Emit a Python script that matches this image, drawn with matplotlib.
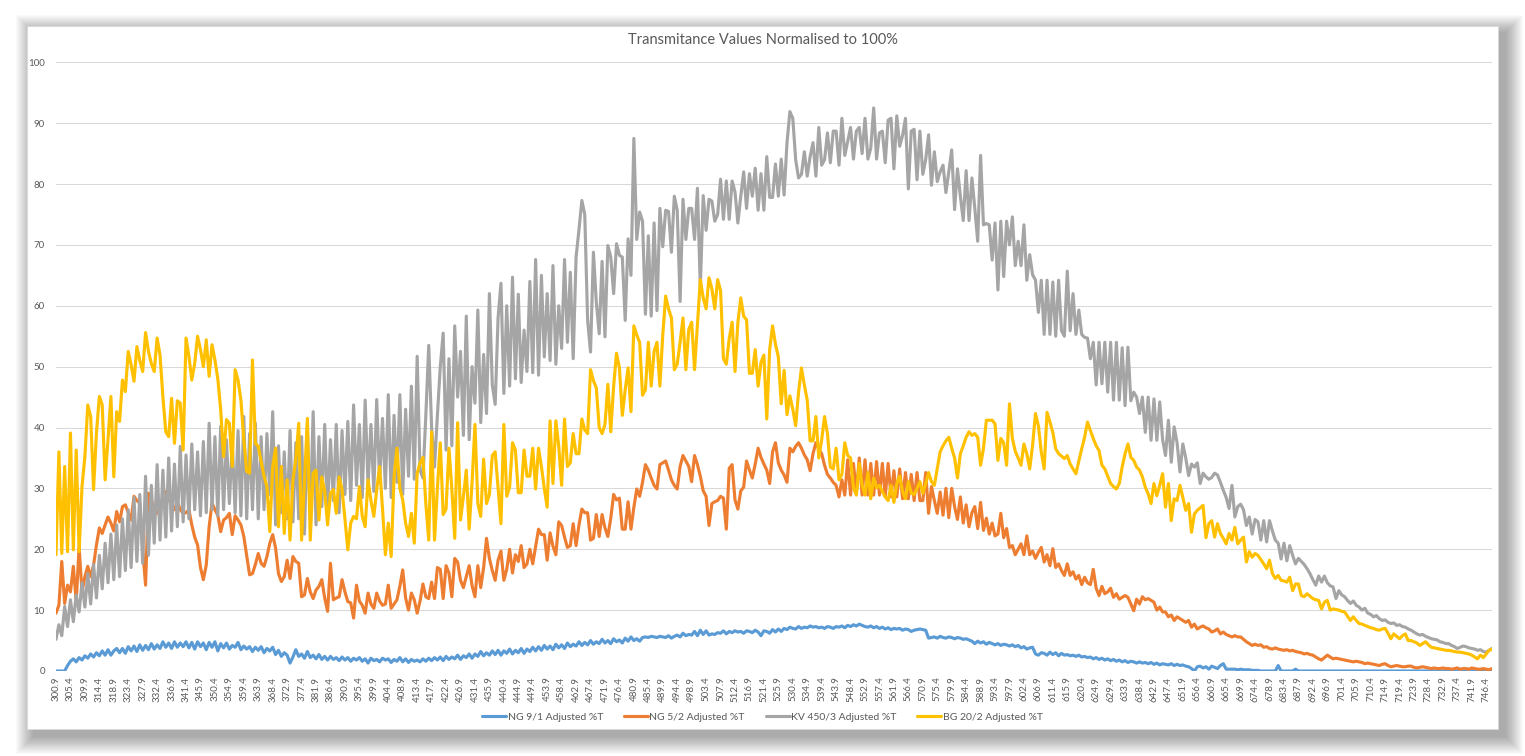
import numpy as np
import matplotlib.pyplot as plt
from matplotlib.patches import Rectangle

plt.rcParams['font.family'] = ['Lato', 'DejaVu Sans']

# categories: wavelength in nm, 0.9 nm apart (300.9 ... 748.2)
wavelengths = np.round(300.9 + 0.9 * np.arange(498), 1)

ng91 = [
    0.0, 0.0, 0.0, 0.0, 0.9, 1.6, 2.0, 1.5, 2.2, 1.8,
    2.5, 2.1, 2.8, 2.3, 3.0, 2.5, 3.3, 2.6, 3.5, 2.6,
    3.3, 3.7, 3.0, 3.7, 2.9, 4.0, 3.3, 4.1, 3.2, 4.3,
    3.4, 4.2, 3.5, 4.5, 3.6, 4.3, 3.7, 4.8, 3.9, 4.6,
    3.7, 4.8, 3.9, 4.6, 4.0, 4.8, 3.8, 4.7, 3.6, 4.8,
    4.0, 4.6, 3.5, 4.7, 3.9, 4.8, 3.3, 4.5, 3.8, 4.6,
    3.6, 4.2, 3.9, 4.7, 3.5, 4.1, 3.6, 4.0, 3.2, 3.9,
    3.4, 4.0, 3.0, 3.7, 3.3, 3.9, 2.7, 3.4, 2.4, 3.0,
    2.6, 1.3, 2.3, 3.5, 2.4, 2.8, 2.1, 3.2, 2.2, 2.6,
    2.0, 2.7, 1.9, 2.4, 1.8, 2.4, 1.9, 2.2, 1.7, 2.3,
    1.8, 2.2, 1.6, 2.1, 1.8, 2.2, 1.6, 2.0, 1.3, 2.1,
    1.7, 1.9, 1.5, 2.1, 1.8, 2.0, 1.4, 1.9, 1.6, 2.2,
    1.5, 2.0, 1.4, 1.9, 1.6, 1.8, 1.5, 2.0, 1.6, 2.1,
    1.7, 2.2, 1.8, 2.3, 1.7, 2.4, 1.9, 2.3, 2.0, 2.6,
    1.9, 2.5, 2.2, 2.8, 2.1, 2.8, 2.4, 3.2, 2.5, 3.0,
    2.6, 3.3, 2.7, 3.4, 2.6, 3.3, 2.9, 3.6, 2.8, 3.4,
    3.0, 3.7, 2.9, 3.6, 3.2, 3.9, 3.3, 4.0, 3.4, 4.2,
    3.6, 4.1, 3.5, 4.4, 3.8, 4.3, 3.7, 4.6, 4.0, 4.4,
    4.1, 4.8, 4.2, 4.7, 4.3, 5.0, 4.4, 4.8, 4.5, 5.2,
    4.6, 5.0, 4.5, 5.3, 4.8, 5.1, 4.6, 5.4, 4.9, 5.6,
    5.0, 5.3, 4.9, 5.5, 5.6, 5.5, 5.7, 5.6, 5.5, 5.7,
    5.6, 5.5, 5.8, 5.4, 5.7, 5.9, 5.6, 6.2, 5.8, 6.0,
    5.9, 6.5, 5.8, 6.7, 6.0, 6.6, 5.9, 6.1, 6.0, 6.3,
    6.2, 6.6, 6.1, 6.5, 6.3, 6.6, 6.4, 6.5, 6.2, 6.6,
    6.5, 6.3, 6.7, 6.4, 5.8, 6.6, 6.5, 6.2, 6.8, 6.4,
    6.9, 6.5, 7.0, 6.8, 7.2, 7.0, 6.9, 7.3, 7.0, 7.2,
    7.1, 7.4, 7.2, 7.3, 7.1, 7.2, 7.0, 7.3, 7.2, 7.0,
    7.3, 7.2, 7.4, 7.1, 7.5, 7.3, 7.6, 7.4, 7.7, 7.5,
    7.3, 7.2, 7.4, 7.1, 7.3, 7.0, 7.2, 6.9, 7.1, 6.8,
    7.0, 6.9, 7.0, 6.7, 6.9, 6.8, 6.5, 6.7, 6.8, 6.9,
    6.8, 6.7, 5.4, 5.5, 5.6, 5.4, 5.7, 5.5, 5.4, 5.6,
    5.5, 5.3, 5.5, 5.4, 5.2, 5.3, 5.1, 4.9, 4.5, 4.9,
    4.6, 4.8, 4.4, 4.7, 4.5, 4.3, 4.5, 4.2, 4.4, 4.3,
    4.1, 4.3, 4.0, 4.2, 3.8, 4.0, 3.6, 3.8, 3.9, 2.8,
    2.6, 3.0, 2.9, 2.6, 3.1, 2.7, 3.0, 2.5, 2.9, 2.6,
    2.7, 2.5, 2.6, 2.4, 2.6, 2.3, 2.4, 2.2, 2.3, 2.0,
    2.2, 1.9, 2.1, 1.8, 2.0, 1.7, 1.9, 1.6, 1.8, 1.5,
    1.7, 1.4, 1.6, 1.5, 1.3, 1.5, 1.3, 1.4, 1.2, 1.4,
    1.1, 1.3, 1.0, 1.2, 1.1, 1.0, 1.2, 0.9, 1.1, 0.9,
    1.0, 0.8, 0.7, 0.4, 0.0, 0.7, 0.8, 0.5, 0.7, 0.3,
    0.8, 0.6, 0.4, 0.9, 1.2, 0.3, 0.3, 0.3, 0.3, 0.2,
    0.3, 0.2, 0.2, 0.2, 0.1, 0.1, 0.1, 0.0, 0.0, 0.0,
    0.0, 0.0, 0.0, 0.9, 0.0, 0.0, 0.0, 0.0, 0.0, 0.3,
    0.0, 0.0, 0.0, 0.0, 0.0, 0.0, 0.0, 0.0, 0.0, 0.0,
    0.0, 0.0, 0.0, 0.0, 0.0, 0.0, 0.0, 0.0, 0.0, 0.0,
    0.0, 0.0, 0.0, 0.0, 0.0, 0.0, 0.0, 0.0, 0.0, 0.0,
    0.0, 0.0, 0.0, 0.0, 0.0, 0.0, 0.0, 0.0, 0.0, 0.0,
    0.0, 0.0, 0.0, 0.0, 0.0, 0.0, 0.0, 0.0, 0.0, 0.0,
    0.0, 0.0, 0.0, 0.0, 0.0, 0.0, 0.0, 0.0, 0.0, 0.0,
    0.0, 0.0, 0.0, 0.0, 0.0, 0.0, 0.0, 0.0,
]

ng52 = [
    9.5, 10.8, 18.0, 11.1, 14.1, 13.0, 17.2, 11.4, 20.4, 13.0,
    15.5, 17.2, 15.5, 17.4, 20.7, 23.5, 22.6, 24.0, 25.3, 24.3,
    23.0, 26.2, 24.5, 27.0, 27.3, 26.0, 24.8, 28.7, 28.0, 27.6,
    20.0, 14.1, 29.2, 28.1, 26.5, 25.9, 27.0, 28.5, 29.5, 28.5,
    27.0, 26.5, 27.8, 26.5, 25.9, 26.0, 26.5, 24.0, 22.0, 20.7,
    17.0, 15.0, 17.4, 23.7, 27.6, 26.5, 25.6, 22.9, 24.8, 25.2,
    25.9, 22.4, 25.5, 24.8, 24.0, 22.1, 19.0, 15.8, 16.0, 17.5,
    19.3, 17.7, 17.2, 18.8, 21.0, 22.4, 20.2, 16.0, 14.7, 15.5,
    18.2, 15.2, 18.8, 18.0, 17.7, 12.2, 12.5, 15.2, 13.0, 11.9,
    13.3, 13.9, 15.0, 12.0, 9.8, 17.7, 11.7, 12.0, 12.2, 15.0,
    13.0, 11.4, 11.2, 8.7, 14.1, 11.5, 10.8, 9.5, 12.8, 11.0,
    10.3, 12.8, 11.5, 10.8, 11.0, 14.1, 10.3, 11.0, 11.7, 13.9,
    16.6, 12.0, 10.0, 12.8, 11.7, 9.5, 11.5, 14.3, 12.2, 11.9,
    14.6, 11.9, 17.0, 16.7, 11.9, 17.3, 16.1, 12.2, 18.5, 17.9,
    14.9, 13.7, 15.5, 17.3, 14.0, 12.2, 17.3, 13.7, 17.0, 21.8,
    18.5, 16.5, 14.9, 18.2, 19.7, 14.9, 16.7, 20.0, 16.1, 19.1,
    18.0, 20.6, 17.0, 17.6, 20.0, 17.6, 20.5, 23.3, 22.4, 22.4,
    18.2, 22.7, 20.5, 19.1, 24.5, 23.9, 22.0, 20.3, 20.6, 24.2,
    20.6, 24.0, 26.6, 26.0, 26.0, 21.5, 21.8, 25.7, 22.1, 25.7,
    23.5, 22.1, 25.1, 29.0, 28.1, 28.4, 23.3, 23.3, 27.8, 23.3,
    26.9, 29.9, 28.7, 31.0, 33.9, 33.0, 31.7, 30.5, 29.9, 33.9,
    34.2, 34.5, 33.0, 31.4, 30.5, 29.9, 33.6, 35.4, 34.5, 33.6,
    31.1, 35.4, 33.9, 32.0, 29.6, 28.7, 23.9, 27.5, 27.8, 28.0,
    28.7, 28.4, 23.3, 33.3, 33.9, 28.1, 26.6, 29.6, 30.2, 34.5,
    33.0, 31.7, 34.0, 36.6, 35.1, 34.0, 33.0, 30.8, 36.0, 37.5,
    34.2, 33.0, 32.2, 31.0, 36.6, 36.0, 36.9, 37.5, 36.6, 35.5,
    34.7, 32.9, 35.7, 37.5, 36.5, 35.7, 33.8, 32.3, 31.7, 31.0,
    30.5, 28.6, 31.4, 28.9, 34.7, 28.9, 34.1, 29.2, 35.0, 28.9,
    34.7, 28.9, 34.1, 28.9, 34.4, 28.9, 34.1, 28.6, 34.1, 28.6,
    32.9, 28.6, 33.2, 28.3, 32.6, 28.3, 32.3, 28.0, 32.6, 28.0,
    28.0, 32.6, 25.9, 30.3, 28.0, 25.9, 29.4, 25.6, 30.0, 25.2,
    30.0, 27.0, 24.9, 28.6, 24.3, 27.3, 23.7, 26.0, 27.0, 23.4,
    27.7, 23.1, 25.1, 22.5, 24.3, 22.2, 22.5, 25.9, 21.9, 23.4,
    20.3, 20.6, 19.1, 20.0, 20.9, 19.1, 22.2, 19.1, 19.7, 18.5,
    19.5, 20.3, 17.9, 19.1, 17.3, 20.1, 17.0, 17.6, 16.5, 15.7,
    17.6, 15.7, 16.3, 15.1, 15.7, 14.2, 15.4, 14.5, 14.2, 16.7,
    13.6, 12.4, 13.9, 12.7, 13.0, 13.6, 12.1, 12.7, 11.8, 12.1,
    12.4, 12.1, 11.0, 9.9, 11.8, 11.0, 12.2, 11.7, 11.9, 11.6,
    11.3, 10.0, 10.5, 9.7, 9.7, 8.9, 9.2, 8.3, 8.9, 8.6,
    8.3, 8.0, 8.3, 7.2, 7.7, 6.9, 7.2, 7.4, 7.1, 6.9,
    6.4, 6.6, 6.9, 6.1, 6.4, 6.0, 5.8, 5.6, 5.8, 5.6,
    5.6, 5.2, 4.8, 4.5, 4.2, 4.4, 4.2, 4.3, 3.9, 4.0,
    3.7, 3.6, 3.8, 3.6, 3.5, 3.4, 3.5, 3.3, 3.4, 3.2,
    3.1, 3.0, 2.8, 2.9, 2.7, 2.6, 2.3, 2.0, 1.8, 2.2,
    2.6, 2.3, 2.0, 2.1, 2.0, 1.9, 1.8, 1.7, 1.6, 1.5,
    1.6, 1.5, 1.4, 1.2, 1.3, 1.2, 1.1, 1.0, 0.9, 1.1,
    1.2, 0.9, 0.7, 0.8, 0.9, 0.8, 0.7, 0.7, 0.8, 0.8,
    0.6, 0.5, 0.6, 0.7, 0.6, 0.5, 0.4, 0.5, 0.4, 0.4,
    0.5, 0.4, 0.4, 0.3, 0.4, 0.5, 0.3, 0.4, 0.4, 0.3,
    0.5, 0.4, 0.3, 0.3, 0.4, 0.3, 0.2, 0.4,
]

kv4503 = [
    5.2, 7.6, 5.8, 10.6, 7.3, 11.7, 8.1, 12.5, 9.7, 14.5,
    10.5, 16.0, 11.0, 17.5, 12.0, 19.0, 13.5, 21.0, 14.5, 22.5,
    15.0, 24.0, 15.5, 25.0, 16.5, 26.5, 17.0, 28.5, 18.0, 29.0,
    17.7, 32.0, 19.0, 30.5, 21.0, 33.9, 21.5, 33.0, 22.0, 35.0,
    23.0, 34.0, 23.7, 36.9, 24.5, 35.5, 25.0, 37.3, 26.5, 36.0,
    25.5, 37.7, 26.0, 40.7, 26.5, 38.5, 25.5, 40.2, 26.5, 38.0,
    27.5, 37.5, 26.0, 39.5, 25.5, 41.8, 25.0, 39.0, 26.5, 40.7,
    25.0, 38.5, 26.5, 39.0, 29.0, 42.6, 24.0, 37.0, 26.0, 36.0,
    25.0, 39.5, 24.5, 37.5, 25.0, 38.5, 22.5, 40.0, 25.0, 42.6,
    24.0, 38.5, 27.0, 40.5, 26.5, 38.0, 28.0, 40.5, 26.0, 39.5,
    29.0, 41.0, 28.0, 43.7, 30.5, 40.5, 28.5, 44.5, 30.5, 40.5,
    29.5, 44.6, 31.0, 41.5, 30.0, 45.4, 28.5, 42.0, 31.0, 45.4,
    29.0, 43.0, 32.0, 46.8, 31.5, 51.7, 33.0, 31.7, 42.0, 53.5,
    40.0, 33.5, 42.0, 50.0, 55.5, 36.3, 51.3, 37.0, 56.7, 45.0,
    52.5, 38.7, 58.3, 38.0, 50.0, 44.0, 59.3, 40.8, 52.0, 42.3,
    62.0, 47.0, 43.8, 58.0, 63.7, 45.6, 60.0, 46.8, 64.7, 48.0,
    61.9, 47.4, 56.0, 49.2, 64.0, 49.0, 67.6, 48.6, 65.0, 51.6,
    62.0, 51.0, 66.6, 50.4, 60.0, 53.0, 67.6, 54.0, 65.5, 51.3,
    68.0, 72.5, 77.3, 75.0, 57.6, 52.4, 68.8, 60.6, 55.4, 67.3,
    54.9, 69.9, 68.0, 62.0, 70.2, 68.3, 68.0, 57.6, 71.0, 65.0,
    87.5, 70.9, 75.4, 73.9, 58.6, 71.5, 58.3, 73.6, 59.2, 76.0,
    69.7, 75.7, 75.5, 68.8, 78.0, 75.7, 60.7, 77.5, 70.9, 76.0,
    76.0, 70.9, 79.3, 63.0, 78.1, 72.4, 77.5, 77.2, 73.9, 75.0,
    80.8, 74.2, 80.5, 74.2, 80.5, 78.7, 73.6, 78.0, 82.0, 76.0,
    81.7, 78.0, 82.6, 75.7, 81.7, 75.7, 84.5, 77.8, 77.8, 83.3,
    78.0, 84.1, 78.2, 86.8, 91.9, 90.8, 84.0, 81.0, 81.6, 85.3,
    81.3, 84.5, 86.8, 81.3, 89.3, 83.1, 84.0, 88.4, 83.5, 88.7,
    88.7, 83.1, 90.8, 84.7, 87.0, 89.3, 84.1, 88.7, 89.3, 85.0,
    90.8, 84.1, 85.9, 92.5, 84.1, 88.4, 88.7, 83.5, 90.5, 90.8,
    82.5, 91.2, 86.2, 88.0, 90.8, 79.2, 88.7, 89.0, 80.7, 88.7,
    81.6, 84.0, 88.1, 79.8, 85.3, 80.4, 82.0, 83.1, 78.6, 82.0,
    85.6, 75.8, 82.5, 78.0, 74.0, 82.2, 74.0, 81.0, 76.0, 70.6,
    84.7, 73.3, 73.5, 73.3, 67.5, 73.6, 62.6, 73.9, 64.8, 73.9,
    70.0, 74.6, 66.6, 70.6, 66.6, 73.3, 64.2, 68.4, 65.1, 64.2,
    58.9, 64.2, 55.3, 64.2, 55.3, 63.9, 55.0, 64.2, 55.9, 55.0,
    65.7, 55.9, 62.0, 55.3, 59.3, 55.3, 54.8, 54.7, 51.3, 54.0,
    47.0, 54.0, 47.2, 54.0, 45.8, 54.0, 44.5, 54.0, 44.5, 53.1,
    43.6, 53.2, 44.4, 45.8, 45.0, 42.3, 45.0, 39.2, 45.0, 37.9,
    44.7, 37.9, 44.2, 38.0, 35.4, 41.2, 34.3, 40.1, 37.5, 32.7,
    37.3, 35.0, 32.1, 34.0, 33.5, 34.2, 30.8, 32.5, 31.9, 31.5,
    31.8, 32.5, 32.2, 31.0, 29.7, 28.5, 26.7, 30.5, 25.3, 27.0,
    27.4, 26.5, 23.9, 25.3, 22.5, 24.9, 24.5, 21.5, 24.7, 21.2,
    24.7, 23.0, 21.5, 21.0, 18.4, 21.0, 18.1, 20.6, 19.0, 17.6,
    18.5, 18.0, 17.5, 16.8, 16.0, 15.0, 14.1, 15.6, 14.6, 15.6,
    14.5, 14.0, 13.8, 11.9, 13.2, 12.5, 12.2, 11.6, 11.1, 11.5,
    10.8, 10.5, 10.0, 10.3, 9.5, 9.3, 8.9, 9.1, 8.6, 8.3,
    8.4, 8.0, 7.8, 7.9, 7.5, 7.6, 7.3, 7.2, 6.9, 6.7,
    6.4, 6.1, 5.9, 6.0, 5.7, 5.5, 5.3, 5.2, 5.1, 4.8,
    4.7, 4.5, 4.5, 4.2, 4.0, 3.7, 3.9, 4.1, 4.0, 3.8,
    3.7, 3.6, 3.4, 3.5, 3.2, 3.1, 3.4, 3.7,
]

bg202 = [
    19.1, 36.0, 19.3, 33.6, 19.6, 39.1, 19.9, 36.3, 19.6, 30.3,
    35.2, 43.7, 41.8, 29.8, 39.1, 45.1, 43.7, 31.4, 38.0, 45.1,
    31.9, 42.6, 41.0, 47.8, 45.9, 52.5, 50.3, 47.6, 53.3, 51.0,
    49.2, 55.6, 52.5, 50.5, 49.2, 54.7, 51.9, 45.0, 39.3, 38.5,
    44.8, 37.4, 44.4, 44.0, 36.3, 54.7, 51.7, 47.8, 50.5, 55.0,
    52.8, 50.0, 54.4, 48.4, 53.6, 51.1, 48.0, 42.9, 35.2, 41.3,
    40.7, 33.6, 49.5, 47.8, 44.5, 38.0, 32.8, 32.5, 51.1, 37.4,
    36.9, 34.4, 32.0, 30.3, 22.9, 33.6, 36.6, 23.7, 33.6, 22.6,
    31.4, 21.5, 31.4, 34.7, 40.7, 21.5, 31.2, 41.5, 21.5, 32.5,
    33.0, 24.8, 31.9, 29.5, 24.0, 29.2, 29.8, 25.9, 31.9, 29.8,
    25.0, 19.9, 24.3, 25.4, 25.0, 30.3, 25.4, 23.7, 31.4, 28.0,
    25.4, 29.8, 33.6, 26.7, 19.1, 24.3, 18.8, 31.9, 36.6, 30.0,
    28.1, 24.3, 22.1, 25.9, 21.0, 32.5, 34.2, 35.1, 27.5, 21.5,
    39.3, 21.5, 30.0, 37.5, 25.7, 26.6, 36.6, 29.9, 21.8, 40.8,
    24.8, 28.7, 33.0, 23.3, 31.0, 40.5, 27.5, 25.4, 34.8, 27.5,
    29.0, 35.4, 36.0, 30.0, 24.2, 40.5, 28.7, 30.2, 37.5, 36.3,
    29.3, 29.3, 36.3, 32.0, 32.0, 36.6, 29.9, 36.6, 33.6, 30.0,
    26.9, 41.1, 30.8, 41.1, 36.9, 30.5, 41.4, 33.6, 34.2, 39.0,
    35.7, 35.7, 41.4, 39.6, 39.0, 49.5, 47.7, 46.5, 40.0, 39.0,
    40.5, 47.1, 39.3, 46.8, 52.2, 49.8, 42.0, 46.2, 49.8, 42.6,
    56.7, 55.2, 54.0, 45.3, 46.2, 54.0, 46.8, 52.5, 54.0, 46.8,
    55.2, 61.6, 59.5, 58.0, 49.5, 50.4, 54.0, 58.0, 49.5, 56.1,
    57.3, 49.5, 57.0, 64.3, 61.3, 59.5, 64.6, 62.8, 59.5, 64.3,
    62.5, 51.3, 50.4, 54.6, 57.3, 49.2, 57.3, 61.3, 58.3, 57.7,
    48.9, 48.9, 52.8, 46.8, 50.7, 51.9, 41.4, 52.8, 56.7, 53.7,
    51.6, 43.9, 49.4, 42.1, 45.2, 43.0, 40.3, 45.8, 49.8, 47.0,
    44.5, 37.8, 37.8, 41.8, 35.0, 38.0, 41.8, 39.0, 33.5, 33.2,
    36.6, 31.4, 32.3, 37.5, 35.4, 35.0, 30.1, 28.9, 34.1, 30.5,
    28.9, 32.6, 28.3, 31.7, 30.1, 30.5, 29.5, 28.6, 28.0, 30.5,
    27.7, 30.8, 32.0, 29.5, 28.3, 31.1, 29.2, 29.0, 30.0, 31.1,
    29.2, 30.8, 32.6, 31.1, 30.5, 33.2, 36.0, 37.0, 37.8, 38.4,
    36.6, 35.0, 31.7, 35.7, 37.0, 38.4, 39.3, 38.7, 39.0, 38.4,
    33.8, 36.6, 41.2, 41.2, 41.2, 40.6, 34.6, 38.2, 37.5, 33.8,
    43.9, 38.2, 36.1, 35.0, 33.8, 37.3, 35.7, 33.2, 37.1, 42.3,
    40.3, 36.0, 33.2, 42.5, 40.9, 39.2, 36.5, 35.7, 35.3, 34.9,
    35.4, 34.0, 33.2, 32.4, 34.5, 36.5, 38.4, 40.9, 39.5, 38.2,
    37.0, 36.2, 33.8, 33.2, 32.0, 30.8, 30.3, 29.9, 30.8, 33.5,
    35.7, 37.3, 35.1, 34.6, 33.5, 33.0, 31.9, 30.2, 29.1, 27.5,
    30.8, 28.8, 30.5, 32.4, 26.9, 30.8, 24.7, 28.3, 28.0, 30.5,
    28.5, 26.4, 27.5, 22.8, 25.8, 26.4, 26.8, 27.2, 21.9, 24.2,
    24.7, 22.0, 24.2, 22.6, 21.8, 20.9, 22.6, 21.5, 23.6, 20.9,
    21.5, 22.0, 17.9, 19.6, 18.7, 19.3, 19.0, 18.3, 17.6, 16.8,
    18.2, 16.0, 15.2, 15.7, 14.9, 14.8, 14.6, 15.4, 13.2, 14.3,
    14.3, 12.4, 12.2, 12.7, 12.3, 11.9, 11.7, 11.6, 10.2, 11.3,
    11.6, 10.0, 10.2, 10.1, 10.0, 9.8, 9.7, 9.0, 8.3, 8.9,
    8.3, 7.8, 7.7, 7.5, 7.3, 7.1, 7.0, 6.8, 6.7, 6.9,
    7.0, 6.2, 5.3, 6.1, 5.7, 5.3, 5.8, 6.1, 5.0, 5.0,
    4.8, 4.6, 4.2, 4.5, 4.8, 4.3, 3.9, 3.8, 3.7, 3.6,
    3.5, 3.4, 3.4, 3.3, 3.2, 3.1, 3.1, 3.0, 2.9, 2.8,
    2.6, 2.3, 2.0, 2.6, 2.2, 2.8, 3.4, 3.6,
]

series = [
    ("NG 9/1 Adjusted %T", ng91, "#5B9BD5"),
    ("NG 5/2 Adjusted %T", ng52, "#ED7D31"),
    ("KV 450/3 Adjusted %T", kv4503, "#A5A5A5"),
    ("BG 20/2 Adjusted %T", bg202, "#FFC000"),
]
for name, vals, _ in series:
    assert len(vals) == len(wavelengths), (name, len(vals))

W, H = 1525, 756
fig = plt.figure(figsize=(W / 100, H / 100), dpi=100)
fig.patch.set_facecolor("white")

# chart box with a soft drop shadow, heavier to the bottom right
bx0, bx1, by0, by1 = 27, 1498, 27, 730
for k in range(18, 0, -1):
    fig.add_artist(Rectangle(((bx0 - k + 7) / W, (by0 - k - 7) / H),
                             (bx1 - bx0 + 2 * k) / W, (by1 - by0 + 2 * k) / H,
                             transform=fig.transFigure, facecolor="#000000",
                             edgecolor="none", alpha=0.02, zorder=0))
fig.add_artist(Rectangle((bx0 / W, by0 / H), (bx1 - bx0) / W, (by1 - by0) / H,
                         transform=fig.transFigure, facecolor="white",
                         edgecolor="#D9D9D9", linewidth=0.75, zorder=1))

ax = fig.add_axes([56 / W, (H - 671) / H, (1492 - 56) / W, (671 - 62.3) / H])
ax.set_zorder(2)
ax.patch.set_alpha(0)

x = np.arange(len(wavelengths))
for name, vals, col in series:
    ax.plot(x, vals, color=col, linewidth=2.25, label=name,
            solid_joinstyle="round", solid_capstyle="round")

ax.set_xlim(0, len(wavelengths) - 1)
ax.set_ylim(0, 100)
ax.set_yticks(range(0, 101, 10))
ax.set_yticklabels([str(v) for v in range(0, 101, 10)])
ticks = x[::5]
ax.set_xticks(ticks)
ax.set_xticklabels([f"{wavelengths[t]:.1f}" for t in ticks], rotation=90)
ax.tick_params(axis="both", length=0, colors="#595959", labelsize=7)
ax.tick_params(axis="y", pad=8)
ax.tick_params(axis="x", pad=4)
ax.yaxis.grid(True, color="#D9D9D9", linewidth=0.75)
ax.set_axisbelow(True)
for s in ax.spines.values():
    s.set_visible(False)

fig.text(0.5, 1 - 40 / H, "Transmitance Values Normalised to 100%",
         ha="center", va="center", fontsize=10.5, color="#595959", zorder=3)

leg = fig.legend(loc="center", bbox_to_anchor=(0.5, 1 - 717 / H), ncol=4,
                 frameon=False, fontsize=7.5, handlelength=2.3,
                 handletextpad=0.15, columnspacing=2.0)
for t in leg.get_texts():
    t.set_color("#595959")
leg.set_zorder(3)

fig.savefig("out.png", dpi=100, facecolor=fig.get_facecolor())
